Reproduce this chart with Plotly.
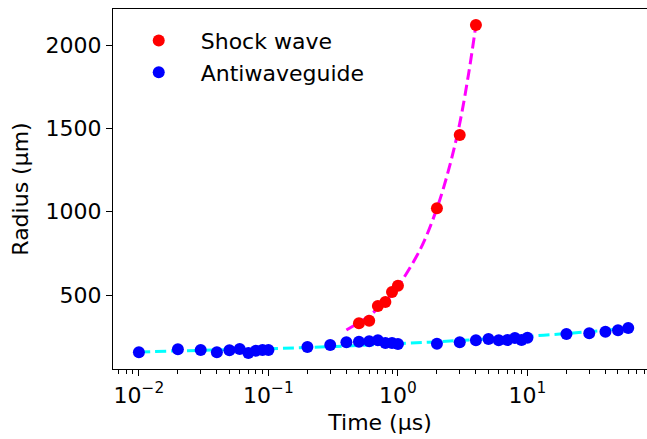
import plotly.graph_objects as go

# Shock wave data (time in µs, radius in µm)
shock_t = [0.5, 0.6, 0.7, 0.8, 0.9, 1.0, 2, 3, 4]
shock_r = [330, 346, 434, 458, 518, 556, 1020, 1460, 2120]

# Antiwaveguide data
anti_t = [0.01, 0.02, 0.03, 0.04, 0.05, 0.06, 0.07, 0.08, 0.09, 0.1,
          0.2, 0.3, 0.4, 0.5, 0.6, 0.7, 0.8, 0.9, 1.0,
          2, 3, 4, 5, 6, 7, 8, 9, 10,
          20, 30, 40, 50, 60]
anti_r = [156, 174, 170, 156, 168, 176, 152, 166, 170, 170,
          188, 200, 216, 220, 222, 228, 212, 212, 206,
          208, 216, 228, 236, 228, 230, 242, 230, 244,
          266, 270, 280, 288, 302]

# Fit curves
shock_fit_t = [0.4, 0.5, 0.6, 0.7, 0.8, 0.9, 1.0, 1.5, 2, 2.5, 3, 3.5, 4]
shock_fit_r = [290, 335, 375, 420, 460, 505, 550, 780, 1020, 1270, 1530, 1820, 2120]

anti_fit_t = [0.01, 0.03, 0.1, 0.3, 1, 3, 10, 30, 60]
anti_fit_r = [158, 168, 178, 190, 208, 227, 252, 280, 302]

x_tickvals = [0.01, 0.1, 1, 10]
x_ticktext = ["10<sup>−2</sup>", "10<sup>−1</sup>", "10<sup>0</sup>", "10<sup>1</sup>"]
y_tickvals = [500, 1000, 1500, 2000]

FONT = "DejaVu Sans"

fig = go.Figure()
fig.add_trace(go.Scatter(x=shock_fit_t, y=shock_fit_r, mode="lines",
                         line=dict(color="#ff00ff", width=3, dash="11px,5px", shape="spline"),
                         showlegend=False, hoverinfo="skip"))
fig.add_trace(go.Scatter(x=anti_fit_t, y=anti_fit_r, mode="lines",
                         line=dict(color="#00ffff", width=3, dash="11px,5px", shape="spline"),
                         showlegend=False, hoverinfo="skip"))
fig.add_trace(go.Scatter(x=shock_t, y=shock_r, mode="markers", name="Shock wave",
                         marker=dict(color="#ff0000", size=12, line=dict(width=0))))
fig.add_trace(go.Scatter(x=anti_t, y=anti_r, mode="markers", name="Antiwaveguide",
                         marker=dict(color="#0000ff", size=12, line=dict(width=0))))

fig.update_layout(
    width=647, height=439,
    margin=dict(l=113, r=0, t=9, b=70),
    paper_bgcolor="white", plot_bgcolor="white",
    font=dict(family=FONT, size=22, color="black"),
    showlegend=True,
    legend=dict(x=0.007, y=0.97, xanchor="left", yanchor="top",
                bgcolor="rgba(0,0,0,0)", borderwidth=0,
                font=dict(family=FONT, size=22, color="black"),
                itemwidth=74),
)
fig.update_xaxes(
    type="log", range=[-2.2, 1.923],
    tickvals=x_tickvals, ticktext=x_ticktext,
    showgrid=False, zeroline=False,
    showline=True, linecolor="black", linewidth=1.2, mirror=True,
    ticks="outside", ticklen=6, tickwidth=1.2, tickcolor="black",
    tickfont=dict(family=FONT, size=22, color="black"),
    minor=dict(ticks="outside", ticklen=3.5, tickwidth=1, tickcolor="black", dtick="D1", showgrid=False),
    title=dict(text="Time (µs)", font=dict(family=FONT, size=22, color="black"), standoff=8),
)
fig.update_yaxes(
    range=[56, 2216],
    tickvals=y_tickvals,
    showgrid=False, zeroline=False,
    showline=True, linecolor="black", linewidth=1.2,
    ticks="outside", ticklen=6, tickwidth=1.2, tickcolor="black",
    tickfont=dict(family=FONT, size=22, color="black"),
    title=dict(text="Radius (µm)", font=dict(family=FONT, size=22, color="black"), standoff=10),
)

fig.write_html("out.html", config={"displayModeBar": False},
               post_script="document.body.style.margin='0px';document.body.style.overflow='hidden';")
